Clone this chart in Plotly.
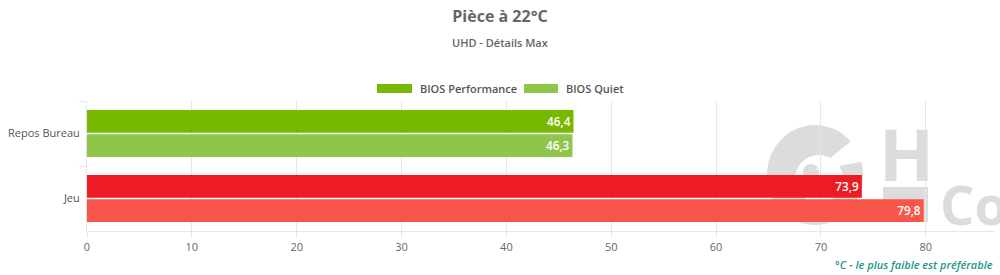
import plotly.graph_objects as go

categories = ["Repos Bureau", "Jeu"]
series_names = ["BIOS Performance", "BIOS Quiet"]
perf_values = [46.4, 73.9]
quiet_values = [46.3, 79.8]
perf_colors = ["#76b900", "#ed1c24"]
quiet_colors = ["#8fc549", "#f8564a"]
legend_colors = ["#76b900", "#8fc549"]
x_ticks = [0, 10, 20, 30, 40, 50, 60, 70, 80]

FONT = "Open Sans"
L, R, T, B = 87, 5, 101, 44
PW, PH = 1000 - L - R, 275 - T - B

def px(x):
    return (x - L) / PW

def py(y):
    return 1 - (y - T) / PH

def fmt(v):
    return f"{v:.1f}".replace(".", ",")

fig = go.Figure()
for name, vals, cols in [(series_names[0], perf_values, perf_colors),
                         (series_names[1], quiet_values, quiet_colors)]:
    fig.add_trace(go.Bar(
        y=categories, x=vals, orientation="h", name=name,
        marker=dict(color=cols, line=dict(width=0)),
        text=[fmt(v) for v in vals], textposition="inside",
        insidetextanchor="end",
        textfont=dict(color="white", size=12, family=FONT, weight=600),
        showlegend=False,
    ))

shapes = [
    # watermark logo
    dict(type="circle", xref="paper", yref="paper", layer="below",
         x0=px(767), x1=px(863), y0=py(225), y1=py(125),
         fillcolor="#dcdcdc", line=dict(width=0)),
    dict(type="circle", xref="paper", yref="paper", layer="below",
         x0=px(795), x1=px(843), y0=py(203), y1=py(155),
         fillcolor="white", line=dict(width=0)),
    dict(type="circle", xref="paper", yref="paper", layer="below",
         x0=px(803), x1=px(819), y0=py(180), y1=py(164),
         fillcolor="#dcdcdc", line=dict(width=0)),
    dict(type="path", xref="paper", yref="paper", layer="below",
         path=f"M {px(815)},{py(170)} L {px(868)},{py(128)} L {px(872)},{py(160)} Z",
         fillcolor="white", line=dict(width=0)),
    dict(type="rect", xref="paper", yref="paper", layer="below",
         x0=px(883), x1=px(928), y0=py(222), y1=py(187),
         fillcolor="#dcdcdc", line=dict(width=0)),
    # custom legend swatches
    dict(type="rect", xref="paper", yref="paper",
         x0=px(377), x1=px(412), y0=py(93), y1=py(84),
         fillcolor=legend_colors[0], line=dict(width=0)),
    dict(type="rect", xref="paper", yref="paper",
         x0=px(524), x1=px(558), y0=py(93), y1=py(84),
         fillcolor=legend_colors[1], line=dict(width=0)),
]

annotations = [
    dict(text="UHD - Détails Max", xref="paper", yref="paper",
         x=px(500), y=py(42), xanchor="center", yanchor="middle",
         showarrow=False, font=dict(family=FONT, size=11, color="#666666", weight=600)),
    dict(text="°C - le plus faible est préférable", xref="paper", yref="paper",
         x=1, y=py(264), xanchor="right", yanchor="middle",
         showarrow=False, font=dict(family=FONT, size=11, color="#23958a", style="italic", weight=600)),
    dict(text=series_names[0], xref="paper", yref="paper",
         x=px(418), y=py(88.5), xanchor="left", yanchor="middle",
         showarrow=False, font=dict(family=FONT, size=11, color="#555555", weight=600)),
    dict(text=series_names[1], xref="paper", yref="paper",
         x=px(564), y=py(88.5), xanchor="left", yanchor="middle",
         showarrow=False, font=dict(family=FONT, size=11, color="#555555", weight=600)),
    dict(text="H", xref="paper", yref="paper",
         x=px(906), y=py(153), xanchor="center", yanchor="middle",
         showarrow=False, font=dict(family=FONT, size=72, color="#dcdcdc", weight=700)),
    dict(text="Co", xref="paper", yref="paper",
         x=px(938), y=py(204), xanchor="left", yanchor="middle",
         showarrow=False, font=dict(family=FONT, size=54, color="#dcdcdc", weight=700)),
]

fig.update_layout(
    width=1000, height=275,
    margin=dict(l=L, r=R, t=T, b=B),
    paper_bgcolor="white", plot_bgcolor="white",
    font=dict(family=FONT, color="#666666"),
    title=dict(text="Pièce à 22°C", x=0.5, xanchor="center", xref="container",
               y=1 - 16 / 275, yanchor="middle", yref="container",
               font=dict(family=FONT, size=16, color="#666666", weight=700)),
    barmode="group", bargap=0.25, bargroupgap=0.07,
    showlegend=False,
    shapes=shapes,
    annotations=annotations,
    uniformtext=dict(minsize=8, mode="show"),
)

fig.update_xaxes(range=[0, 86.6], tickvals=x_ticks, ticktext=[str(t) for t in x_ticks],
                 showgrid=True, gridcolor="#e6e6e6", gridwidth=1, zeroline=False,
                 showline=True, linecolor="#e6e6e6", linewidth=1,
                 ticks="outside", ticklen=6, tickcolor="#e6e6e6",
                 tickfont=dict(family=FONT, size=11, color="#666666"), fixedrange=True)
fig.update_yaxes(autorange="reversed", showgrid=False, zeroline=False,
                 showline=True, linecolor="#e6e6e6", linewidth=1,
                 ticks="outside", tickson="boundaries", ticklen=7, tickcolor="#e6e6e6",
                 tickfont=dict(family=FONT, size=11, color="#555555"), ticklabelstandoff=4)

fig.write_html("out.html")
